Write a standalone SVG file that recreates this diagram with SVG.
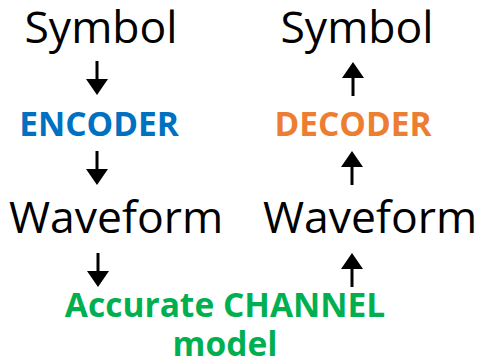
<svg xmlns="http://www.w3.org/2000/svg" width="479" height="360" viewBox="0 0 479 360">
<style>
text{font-family:"Open Sans","DejaVu Sans",sans-serif;text-anchor:middle}
.big{font-size:44.5px;fill:#000}
.lbl{font-size:33.5px;font-weight:bold}
.conn line{stroke:#000;stroke-width:3}
</style>
<defs>
<marker id="ah" viewBox="0 0 16 22" refX="1" refY="11" markerWidth="16" markerHeight="22" markerUnits="userSpaceOnUse" orient="auto">
<path d="M0,0 L16,11 L0,22 Z" fill="#000"/>
</marker>
</defs>
<rect width="479" height="360" fill="#fff"/>
<g id="sym-left"><text class="big" x="101" y="43">Symbol</text></g>
<g id="encoder"><text class="lbl" x="99" y="136" fill="#0070C0">ENCODER</text></g>
<g id="wave-left"><text class="big" x="116" y="233">Waveform</text></g>
<g id="channel"><text class="lbl" x="225" y="317" fill="#00B050">Accurate CHANNEL</text><text class="lbl" x="225" y="356" fill="#00B050">model</text></g>
<g id="wave-right"><text class="big" x="370" y="233">Waveform</text></g>
<g id="decoder"><text class="lbl" x="353" y="136" fill="#ED7D31">DECODER</text></g>
<g id="sym-right"><text class="big" x="357" y="43">Symbol</text></g>
<g class="conn" id="connectors">
<line x1="97" y1="61" x2="97" y2="80" marker-end="url(#ah)"/>
<line x1="97" y1="151" x2="97" y2="170" marker-end="url(#ah)"/>
<line x1="98" y1="253" x2="98" y2="272" marker-end="url(#ah)"/>
<line x1="352" y1="287" x2="352" y2="268" marker-end="url(#ah)"/>
<line x1="352" y1="185" x2="352" y2="166" marker-end="url(#ah)"/>
<line x1="353" y1="96" x2="353" y2="77" marker-end="url(#ah)"/>
</g>
</svg>
